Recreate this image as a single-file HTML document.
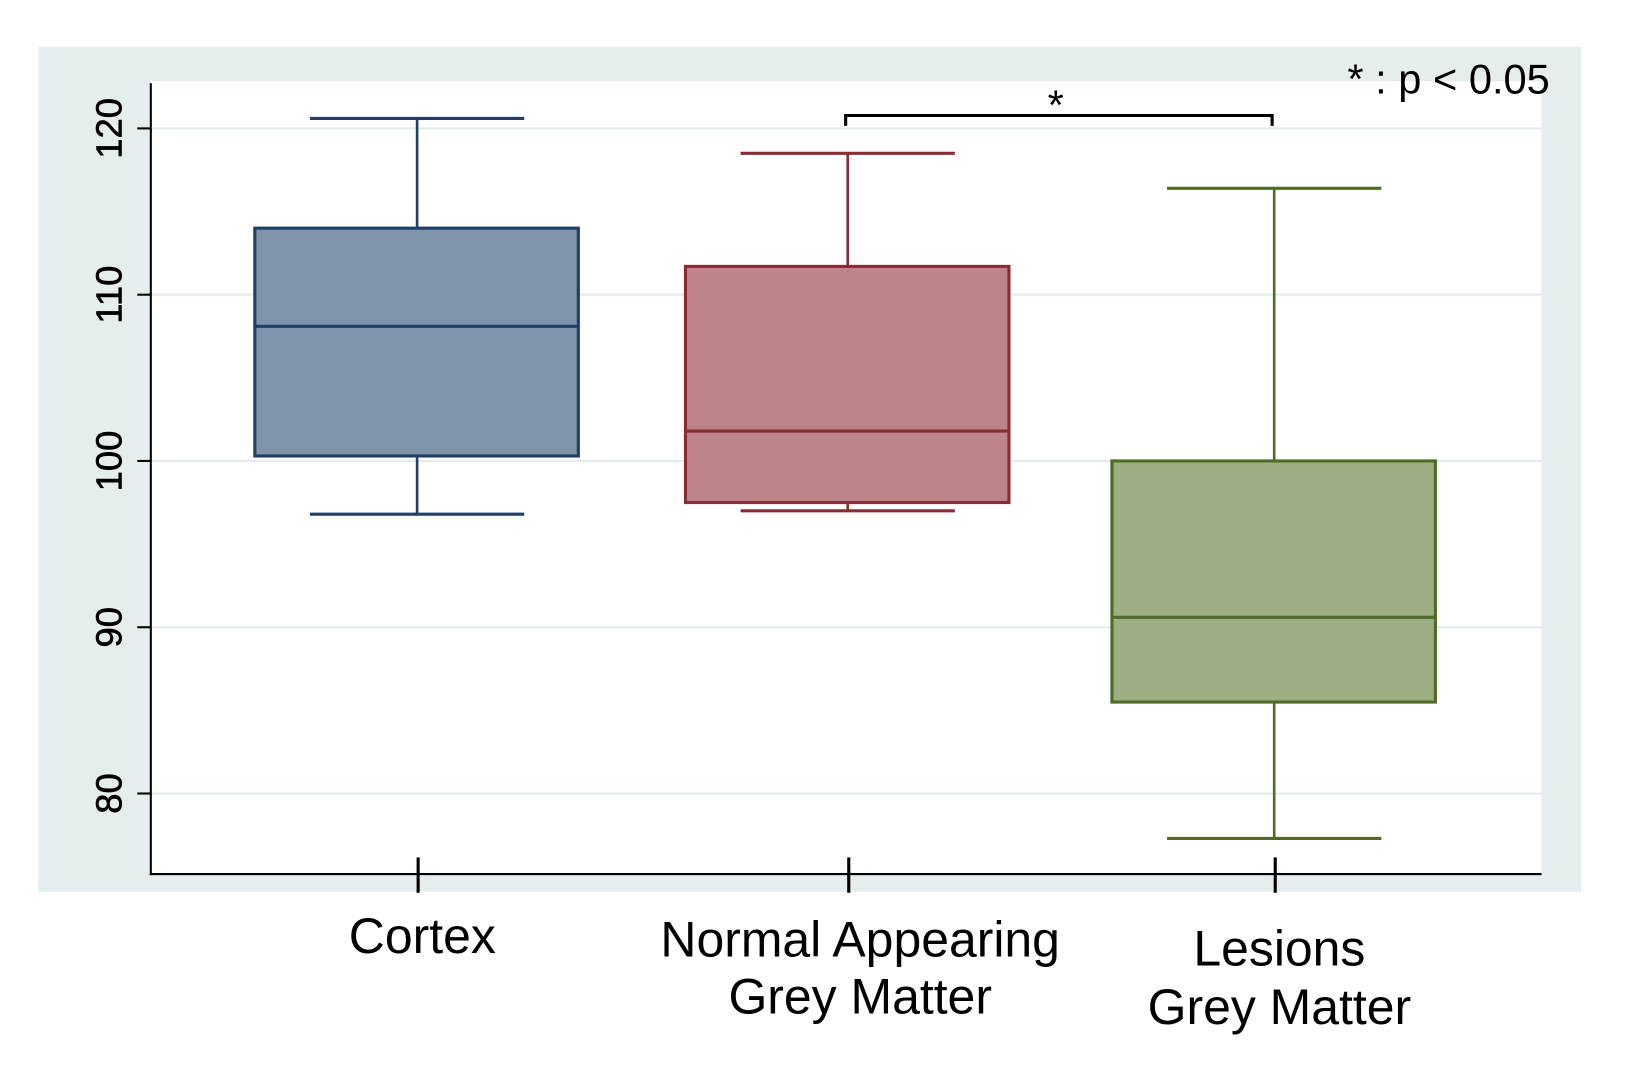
<!DOCTYPE html>
<html><head><meta charset="utf-8"><style>
html,body{margin:0;padding:0;background:#fff;}
svg{display:block;font-family:"Liberation Sans",Arial,sans-serif;}
</style></head><body>
<svg id="chart" width="1632" height="1078" viewBox="0 0 1569 1036" preserveAspectRatio="none" xmlns="http://www.w3.org/2000/svg">
<rect x="37" y="45" width="1483" height="812" fill="#e5edee"/>
<rect x="145" y="78" width="1337" height="762" fill="#ffffff"/>
<g id="grid"></g>
<g id="boxes"></g>
<line x1="145" y1="80" x2="145" y2="841" stroke="#000" stroke-width="2"/>
<line x1="144" y1="840" x2="1482" y2="840" stroke="#000" stroke-width="2"/>
<g id="yticks"></g>
<g id="xticks"></g>
<path d="M813,121 V111 H1223 V121" fill="none" stroke="#000" stroke-width="3"/>
<text x="1015" y="115" font-size="40" text-anchor="middle">*</text>
<text x="1490" y="90" font-size="40" text-anchor="end">* : p &lt; 0.05</text>
</svg>
<script>
const categories = ["Cortex", "Normal Appearing|Grey Matter", "Lesions|Grey Matter"];
const whiskerLow = [96.8, 97.0, 77.3];
const q1 = [100.3, 97.5, 85.5];
const median = [108.1, 101.8, 90.6];
const q3 = [114.0, 111.7, 100.0];
const whiskerHigh = [120.6, 118.5, 116.4];
const yTicks = [80, 90, 100, 110, 120];

const fills = ["#7f93aa", "#bc8589", "#9cae84"];
const strokes = ["#1f3f66", "#8b2b33", "#4f6b26"];
const centers = [401, 815, 1225];
const labelY = [[900], [903, 958], [912, 968]];
const NS = "http://www.w3.org/2000/svg";
function y(v){ return 443 - (v - 100) * 15.98; }
function mk(tag, attrs, parent){
  const e = document.createElementNS(NS, tag);
  for (const k in attrs) e.setAttribute(k, attrs[k]);
  parent.appendChild(e); return e;
}
const grid = document.getElementById('grid');
const yt = document.getElementById('yticks');
yTicks.forEach(t => {
  const g = mk('line', {x1:146, x2:1482, y1:y(t), y2:y(t), stroke:'#e3ebed', 'stroke-width':2}, grid);
  
  
  const tk = mk('line', {x1:132, x2:145, y1:y(t), y2:y(t), stroke:'#000', 'stroke-width':2}, yt);
  
  
  const tx = mk('text', {x:0, y:0, 'font-size':35, 'text-anchor':'middle', stroke:'#000', 'stroke-width':0.6, transform:'translate(117,' + y(t) + ') rotate(-90)'}, yt);
  tx.textContent = t;
  
  
});
const boxes = document.getElementById('boxes');
const xt = document.getElementById('xticks');
categories.forEach((c, i) => {
  const cx = centers[i], s = strokes[i];
  const g = mk('g', {}, boxes);
  
  
  mk('line', {x1:cx, x2:cx, y1:y(whiskerHigh[i]), y2:y(q3[i]), stroke:s, 'stroke-width':2.5}, g);
  mk('line', {x1:cx, x2:cx, y1:y(q1[i]), y2:y(whiskerLow[i]), stroke:s, 'stroke-width':2.5}, g);
  mk('line', {x1:cx-103, x2:cx+103, y1:y(whiskerHigh[i]), y2:y(whiskerHigh[i]), stroke:s, 'stroke-width':3}, g);
  mk('line', {x1:cx-103, x2:cx+103, y1:y(whiskerLow[i]), y2:y(whiskerLow[i]), stroke:s, 'stroke-width':3}, g);
  mk('rect', {x:cx-156, width:311, y:y(q3[i]), height:y(q1[i]) - y(q3[i]), fill:fills[i], stroke:s, 'stroke-width':3}, g);
  mk('line', {x1:cx-156, x2:cx+155, y1:y(median[i]), y2:y(median[i]), stroke:s, 'stroke-width':3}, g);
  const tk = mk('line', {x1:cx+1, x2:cx+1, y1:824, y2:858, stroke:'#000', 'stroke-width':3}, xt);
  
  
  c.split('|').forEach((line, j) => {
    const tx = mk('text', {x:cx + (i === 0 ? 5 : (i === 1 ? 12 : 5)), y:labelY[i][j] + 16, 'font-size':48, 'text-anchor':'middle'}, xt);
    tx.textContent = line;
    
    
  });
});
</script>
</body></html>
